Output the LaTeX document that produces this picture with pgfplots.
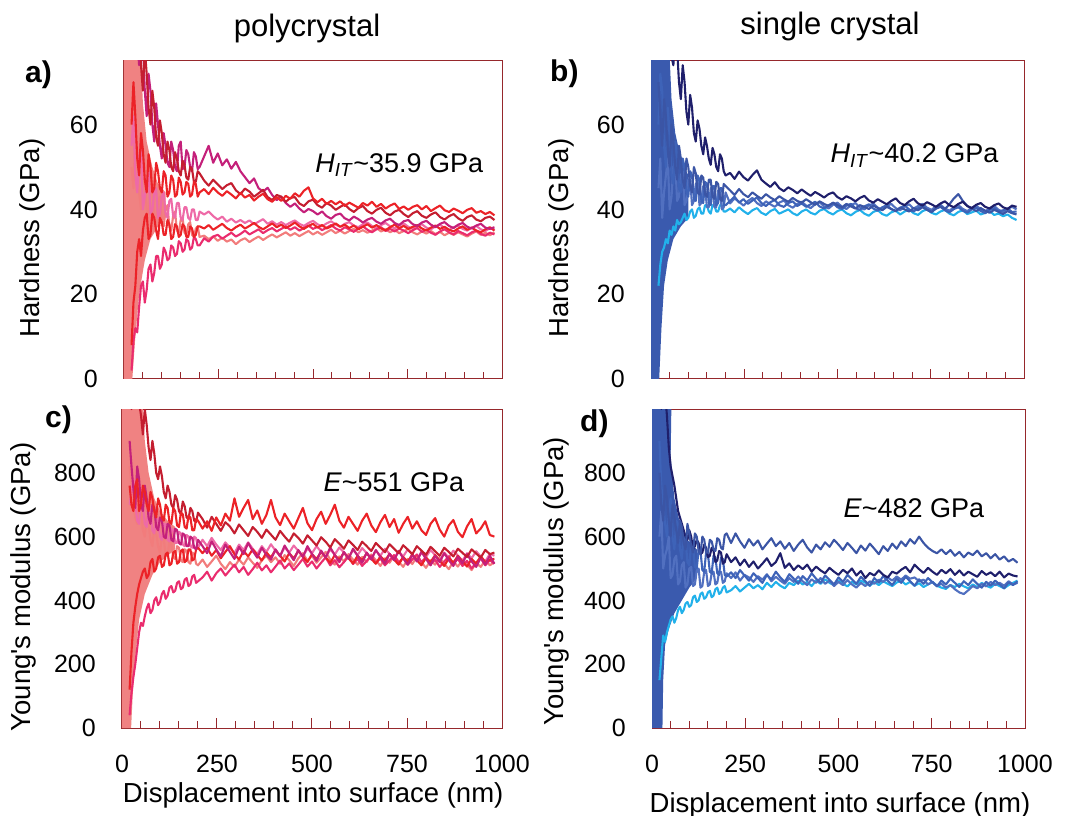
\documentclass[border=0pt]{standalone}
\usepackage{fontspec}
\setmainfont{Liberation Sans}
\usepackage{pgfplots}
\usepackage{pgfplotstable}
\pgfplotsset{compat=1.18}
\definecolor{frame}{HTML}{96282C}
\definecolor{pfill}{HTML}{F08282}
\definecolor{pdr}{HTML}{C41E30}
\definecolor{pred}{HTML}{EC2227}
\definecolor{pmag}{HTML}{C4207A}
\definecolor{phot}{HTML}{EA2C6E}
\definecolor{psal}{HTML}{F27C7C}
\definecolor{plp}{HTML}{EE6AA7}
\definecolor{sfill}{HTML}{3A5AAE}
\definecolor{snavy}{HTML}{1F1F6B}
\definecolor{sroyal}{HTML}{3B55A5}
\definecolor{smed}{HTML}{3E63B8}
\definecolor{ssky}{HTML}{22B1EA}
\definecolor{ssteel}{HTML}{5170C0}

\pgfplotstableread{
x A1 A2 A3 A4 A5 A6 A7
20 95 88 60 2 8 50 55
25 78 76 70 9 18 45 62
30 82 92 62 12 22 58 48
35 92 80 52 11 30 52 44
40 86 74 48 17 33 44 52
45 74 90 58 22 29 40 56
50 68 80 54 23 35 48 40
55 78 68 47 18 38 47 43
60 72 62 44 21 39 40 46
65 64 72 53 26 33 39 49
70 60 68 50 27 34 44 39
75 68 60 44 23 39 45 40
80 64 56 45 25 38 38 44
85 57 65 51 29 35 37 45
90 55 60 49 29 33 42 38
95 61 55 45 26 38 43 39
100 58 52 44 27 37 37 43
105 53 58 49 31 34 36 44
110 51 55 48 30 34 40 39
115 56 51 43 28 37.5 41 38
120 54 50 44 28.5 36.5 36 42
125 50 56 48 31.5 33 35 42.5
130 49 54 47 31 33.5 38.5 38.5
135 53.5 50 43 29 36.5 39.5 38
140 52 49 43.5 29.5 36 35 41.5
145 49 55 47.5 32.5 33.5 34.5 41.5
150 48 56 46.5 32 34 37.5 38
155 51.5 49.5 43.5 30 36.5 38 37.5
160 50.5 50 44 30.5 36 34.5 40.5
165 47.5 54 46.5 33 33.5 34 40.5
170 47 53 46 32.5 33.5 36.5 38
175 50 50 43 30.5 36 37 37.5
180 49.5 49 43.5 31 35.5 34 40
185 46.5 53.5 46.5 33.5 33.5 33.5 40
190 46.5 52.5 46 33 34 35.5 37.5
195 49 49.5 43 31.5 36 36 37.5
200 48.5 50 44 31.5 36 33.5 39.5
212 46.8 52.5 44.8 33.2 35.5 33.8 38.8
224 45.6 55.0 43.6 32.4 36.3 33.0 39.5
236 47.0 51.0 45.1 33.6 35.2 33.6 38.4
248 45.9 53.2 44.0 34.0 35.9 32.6 37.6
260 44.8 50.4 43.2 33.1 36.6 33.3 38.3
272 45.7 51.8 44.3 33.8 35.6 32.4 37.1
284 46.2 49.6 43.5 34.5 35.0 32.9 37.8
296 44.5 51.2 42.6 33.6 35.8 31.8 36.9
308 43.6 49.0 43.9 34.2 36.4 32.7 37.5
320 44.9 47.6 42.8 35.0 35.5 33.2 36.8
332 44.2 46.2 43.4 34.1 36.1 32.3 37.4
344 43.0 47.3 42.1 34.7 36.8 33.0 36.5
356 43.8 45.0 43.0 35.3 35.9 33.6 37.1
368 44.6 44.2 43.7 34.4 35.3 32.8 37.7
380 42.9 45.1 42.4 35.1 36.0 33.5 36.6
392 42.2 43.4 41.8 35.6 36.7 34.1 37.2
404 43.4 42.2 42.9 34.8 35.8 33.4 36.4
416 43.0 43.0 42.0 35.4 36.4 34.0 37.0
428 41.8 41.5 43.2 36.0 35.6 34.6 36.3
440 42.7 40.6 42.5 35.2 36.2 33.8 36.9
452 42.9 41.4 43.8 35.8 36.9 34.4 37.4
464 41.4 40.2 43.0 35.0 36.0 33.7 36.6
476 40.8 39.3 44.4 35.6 35.4 34.3 36.1
488 41.9 40.1 45.2 36.2 36.1 34.9 36.8
500 42.3 39.6 42.6 35.4 36.6 34.1 37.3
512 41.0 38.8 41.7 35.9 35.7 34.7 36.5
524 40.4 39.5 42.5 35.1 36.3 34.0 36.0
536 41.5 38.4 41.3 35.7 35.5 34.6 36.7
548 40.9 37.8 42.0 36.3 36.0 35.2 37.2
560 39.9 38.7 41.2 35.5 36.7 34.4 36.4
572 40.6 39.0 41.9 35.0 35.9 35.0 35.9
584 41.2 37.9 40.8 35.8 36.4 34.3 36.6
596 40.1 37.4 41.6 35.3 35.6 34.9 37.0
608 39.4 38.3 41.0 34.7 36.2 35.4 36.2
620 40.3 37.7 40.4 35.5 35.3 34.6 35.8
632 40.8 36.9 41.5 36.0 35.9 35.1 36.5
644 39.6 37.6 40.9 35.2 36.5 34.5 36.9
656 39.0 38.0 41.8 34.6 35.7 35.0 36.1
668 39.9 37.1 40.6 35.3 36.3 35.6 35.6
680 40.4 36.6 41.3 35.8 35.5 34.8 36.3
692 39.2 37.4 40.2 34.9 35.1 35.3 36.8
704 38.6 37.8 40.9 35.4 35.8 34.6 36.0
716 39.5 36.8 41.4 34.8 36.4 35.2 35.5
728 39.9 36.3 40.1 35.5 35.6 34.4 36.2
740 38.9 37.2 40.7 35.0 36.1 34.9 36.7
752 38.2 37.5 39.9 34.4 35.4 35.4 35.9
764 39.1 36.5 40.6 35.1 35.9 34.6 35.4
776 39.6 36.1 41.0 35.6 36.3 34.1 36.1
788 38.5 36.9 40.0 34.7 35.5 34.8 36.5
800 38.0 37.3 40.8 35.2 35.0 34.3 35.7
812 38.8 36.4 39.6 34.5 35.7 34.9 35.3
824 39.3 35.8 40.3 34.0 36.2 34.2 36.0
836 38.2 36.6 40.9 34.8 35.4 34.7 36.4
848 37.6 37.0 39.8 35.3 35.9 33.9 35.6
860 38.4 36.1 39.4 34.6 35.2 34.5 35.1
872 38.9 35.6 40.2 34.1 34.8 34.0 35.8
884 37.9 36.4 39.7 34.9 35.5 34.6 36.2
896 37.3 36.8 39.1 34.4 36.0 34.1 35.4
908 38.2 35.9 39.9 33.9 35.2 33.6 35.0
920 38.6 35.5 40.3 34.6 35.7 34.3 35.7
932 37.6 36.2 39.2 35.0 35.0 34.8 36.1
944 37.2 36.6 39.6 34.2 34.6 34.0 35.3
956 38.0 35.7 38.9 33.8 35.3 34.5 34.9
968 38.3 35.4 39.4 34.5 35.8 33.9 35.6
980 37.5 35.8 38.6 34.1 35.0 34.6 35.2
}\tabA

\pgfplotstableread{
x B1 B2 B3 B4 B5
20 90 70 60 22 45
25 80 62 72 27 52
30 95 55 68 30 38
35 88 66 55 31 44
40 85 62 50 33 48
45 92 54 64 32 52
50 82 50 58 35 40
55 76 60 48 34 43
60 74 56 46 36 50
65 82 50 56 35 51
70 78 47 53 37.5 42
75 70 55 45 36.5 43
80 66 52 44 37 48
85 74 47 52 38 49
90 70 45 50 39 41
95 63 52 44 37.5 42
100 60 50 43 38 47
105 67 45.5 49 39.5 47
110 64 44 48 40 41
115 58 50 42.5 38 42
120 56 48.5 42 38.5 46
125 61 44 48 40 46.5
130 59 43.5 47 40.5 41
135 55 48 42 39 41.5
140 53 47.5 41.5 39 45.5
145 57 43.5 46.5 41 45
150 55 43 46 41 40.5
155 52 47 41.5 39.5 40.5
160 50.5 47 41 39 45
165 54.5 43 45.5 41 44.5
170 53 42.5 45.5 41 40.5
175 50 46.5 41 39.5 40.5
180 49 46 41.5 39.5 44.5
185 53 42.5 45 41 44
190 52 42 45 41 40
195 49 46 41 39.5 40.5
200 48 45.5 41 39.5 44
212 48.6 44.5 42.0 40.2 41.4
224 47.2 43.4 43.0 39.3 42.6
236 48.9 44.8 41.6 40.5 41.8
248 47.6 43.6 42.4 39.6 40.9
260 46.8 42.9 41.3 38.9 42.0
272 48.1 44.0 42.1 39.8 42.7
284 49.2 43.2 42.8 40.3 41.5
296 47.0 42.5 41.5 39.2 40.8
308 46.1 43.6 40.8 38.7 41.9
320 45.3 42.8 41.7 39.6 41.2
332 46.4 42.2 42.2 40.1 40.6
344 45.0 43.1 41.0 39.0 41.6
356 44.3 42.4 40.6 39.5 42.1
368 45.2 41.8 41.5 40.0 41.0
380 44.6 42.7 41.9 39.1 40.4
392 43.8 42.0 40.8 38.6 41.3
404 44.7 41.6 41.4 39.5 41.8
416 43.9 42.4 40.6 40.0 40.9
428 43.2 41.7 41.2 39.2 40.3
440 44.1 41.1 41.8 38.8 41.2
452 43.5 41.9 40.7 39.7 41.7
464 42.8 41.3 40.2 40.1 40.7
476 43.6 40.8 41.0 39.3 40.2
488 44.0 41.6 41.5 38.8 41.1
500 42.9 41.0 40.5 39.6 41.6
512 42.3 40.5 40.1 40.0 40.6
524 43.1 41.3 40.9 39.1 40.1
536 42.6 40.7 41.3 38.6 41.0
548 41.9 40.2 40.3 39.4 41.5
560 42.7 41.0 39.9 39.9 40.5
572 43.2 40.6 40.7 39.0 40.0
584 42.1 40.1 41.2 38.5 40.9
596 41.6 40.9 40.2 39.4 41.4
608 42.4 40.3 39.7 39.8 40.4
620 41.8 39.8 40.5 38.9 39.9
632 41.2 40.6 41.0 38.5 40.8
644 42.0 40.1 40.1 39.3 41.3
656 42.6 39.6 39.6 39.7 40.3
668 41.5 40.4 40.4 38.8 39.8
680 41.0 40.0 40.9 39.5 40.7
692 41.9 39.5 40.0 40.0 41.2
704 42.5 40.3 39.5 39.1 40.2
716 41.4 39.8 40.3 38.7 40.8
728 40.9 40.5 40.8 39.6 41.3
740 41.7 39.9 39.9 40.0 40.4
752 41.2 39.4 39.4 39.2 39.9
764 40.6 40.2 40.2 38.8 40.7
776 41.4 40.7 40.6 39.5 41.1
788 41.9 40.1 39.8 39.9 40.2
800 41.0 41.2 39.3 39.0 39.7
812 40.5 42.6 40.1 38.6 40.5
824 41.3 43.6 40.5 39.4 41.0
836 41.8 42.0 39.7 39.8 40.1
848 40.8 40.8 39.2 38.9 39.6
860 40.3 40.2 40.0 39.3 40.4
872 41.1 39.6 40.4 39.7 40.9
884 41.5 40.3 39.6 38.8 40.0
896 40.6 39.7 39.1 39.2 39.5
908 40.2 39.2 39.9 39.6 40.3
920 41.0 39.9 40.3 38.7 40.8
932 41.4 39.4 39.5 39.0 39.9
944 40.5 38.9 39.8 38.4 39.4
956 40.1 39.6 40.2 38.8 40.2
968 40.9 39.1 39.4 38.0 40.6
980 40.6 38.8 39.5 37.5 40.0
}\tabB

\pgfplotstableread{
x C1 C2 C3 C4 C5 C6 C7
20 1100 760 900 40 820 700 120
25 1000 700 820 110 760 740 240
30 1150 680 750 160 700 780 330
35 1080 760 690 200 660 700 380
40 1050 780 820 250 640 650 420
45 1020 680 780 300 700 640 450
50 980 700 700 330 690 720 470
55 920 760 680 320 620 700 490
60 1000 740 760 350 600 640 500
65 950 700 720 375 660 630 470
70 880 680 660 390 640 690 480
75 840 740 640 360 590 680 520
80 900 720 700 370 570 620 530
85 860 680 690 400 630 610 490
90 800 660 630 410 610 660 500
95 780 720 620 385 570 650 535
100 820 700 660 395 550 600 540
105 790 660 650 420 600 590 505
110 740 650 600 430 590 640 510
115 720 700 595 405 545 640 545
120 760 690 640 415 540 590 550
125 740 645 635 440 585 585 510
130 700 640 590 445 575 625 515
135 690 690 585 425 535 620 550
140 730 680 625 430 530 580 555
145 715 635 620 455 570 580 515
150 680 630 580 460 565 615 520
155 670 675 575 435 525 610 555
160 710 670 610 440 520 575 560
165 695 630 605 465 560 570 520
170 660 625 570 470 555 605 525
175 655 665 570 445 520 600 560
180 690 660 600 450 515 570 560
185 680 620 595 475 550 565 525
190 650 620 565 480 545 600 530
195 645 655 560 455 515 595 560
200 675 650 590 460 510 565 565
212 655 625 570 472 528 590 548
224 628 648 548 490 505 570 565
236 662 618 585 462 522 596 540
248 640 660 560 485 540 575 558
260 618 635 538 500 515 558 532
272 645 672 575 478 498 582 552
284 632 650 552 495 520 565 570
296 610 720 530 512 505 548 545
308 638 662 568 488 528 575 528
320 620 690 545 505 512 558 555
332 602 715 580 480 535 582 538
344 630 655 555 498 518 562 560
356 615 682 534 518 502 545 542
368 596 640 565 494 526 570 525
380 622 668 542 510 540 552 550
392 606 715 528 488 520 576 535
404 590 660 560 506 535 556 558
416 618 636 538 525 515 540 540
428 600 672 572 500 542 566 522
440 584 648 548 516 526 550 548
452 610 625 526 495 508 572 532
464 596 658 558 512 532 555 555
476 578 690 536 530 548 538 538
488 604 642 570 506 524 562 520
500 588 620 545 522 540 548 545
512 572 655 524 500 518 570 530
524 598 678 556 518 535 552 552
536 584 640 534 535 552 536 535
548 566 668 566 510 528 560 518
560 592 700 542 526 512 544 542
572 578 650 520 504 538 566 528
584 562 628 552 520 522 550 550
596 588 662 530 538 545 534 532
608 574 640 562 514 528 558 516
620 558 618 540 530 512 542 540
632 584 650 518 508 536 564 526
644 570 672 550 524 520 548 548
656 555 635 528 540 544 532 530
668 580 614 558 516 526 556 515
680 566 645 536 532 508 540 538
692 551 668 515 510 532 562 524
704 576 630 546 526 518 546 546
716 562 655 526 542 540 530 528
728 548 612 555 518 522 554 512
740 573 640 532 534 505 538 536
752 559 662 512 512 530 560 522
764 545 625 544 528 514 544 544
776 570 648 522 544 536 528 526
788 556 620 552 520 520 552 510
800 543 605 530 535 502 536 534
812 568 640 510 512 526 558 520
824 554 658 540 528 512 542 542
836 540 622 520 505 534 526 524
848 565 600 548 522 515 550 508
860 552 635 526 538 498 534 532
872 538 652 508 515 522 556 518
884 562 615 538 530 506 540 540
896 549 598 516 508 528 524 522
908 536 632 545 524 512 548 506
920 560 655 522 500 495 532 530
932 547 610 505 518 518 554 516
944 534 625 534 532 505 538 538
956 558 648 512 510 526 522 520
968 545 605 540 526 510 546 528
980 550 600 515 515 520 540 530
}\tabC

\pgfplotstableread{
x D1 D2 D3 D4 D5
20 1200 800 900 150 600
25 1000 700 760 220 680
30 1100 650 700 290 500
35 1050 760 640 270 540
40 980 720 600 300 560
45 880 650 680 320 600
50 820 600 720 340 470
55 790 700 600 350 480
60 760 660 560 330 530
65 720 620 650 345 540
70 680 580 640 370 450
75 660 650 560 380 460
80 640 630 530 360 510
85 620 580 610 370 520
90 600 560 590 390 440
95 590 640 520 395 450
100 620 610 510 380 500
105 600 570 580 385 505
110 560 550 570 410 445
115 570 610 505 415 450
120 590 600 500 395 495
125 580 555 560 400 500
130 545 545 555 420 440
135 550 600 495 425 445
140 575 590 490 405 490
145 565 550 550 410 495
150 535 550 545 425 445
155 540 590 490 430 450
160 565 585 485 410 485
165 555 560 540 415 490
170 520 555 535 435 450
175 525 595 485 440 455
180 555 590 480 420 490
185 550 565 535 425 490
190 515 560 530 440 455
195 520 605 480 445 460
200 545 610 475 425 485
212 520 580 488 432 470
224 535 610 470 445 488
236 510 585 495 428 462
248 528 565 478 440 480
260 505 592 462 452 472
272 522 572 485 438 458
284 500 588 470 448 476
296 515 560 455 435 465
308 532 578 480 455 482
320 508 595 466 442 460
332 520 570 490 458 474
344 548 585 472 446 462
356 502 562 458 438 452
368 516 580 482 455 470
380 495 555 468 448 458
392 510 575 452 462 475
404 498 590 476 450 460
416 512 566 462 458 448
428 490 550 485 445 466
440 506 575 468 462 455
452 494 560 455 452 470
464 485 582 478 466 452
476 502 568 464 455 462
488 490 590 450 448 445
500 480 575 472 462 458
512 496 558 458 452 448
524 485 580 480 444 464
536 500 565 466 458 450
548 478 548 452 450 440
560 492 572 474 462 455
572 470 556 460 455 445
584 486 578 446 446 460
596 478 562 470 458 452
608 494 545 456 448 465
620 480 570 476 460 458
632 472 555 462 452 472
644 490 578 448 445 462
656 484 562 468 456 475
668 496 585 455 462 465
680 505 570 474 450 478
692 488 592 460 458 468
704 512 578 446 446 472
716 498 600 466 454 460
728 486 580 452 442 465
740 502 565 470 450 450
752 490 555 457 458 458
764 480 548 444 446 445
776 496 560 462 440 452
788 485 545 450 436 440
800 498 558 468 448 448
812 480 540 455 442 435
824 494 552 442 452 425
836 478 535 460 444 420
848 490 550 448 438 432
860 482 542 466 450 445
872 474 556 452 442 438
884 492 538 440 455 452
896 480 548 458 446 444
908 488 532 446 440 458
920 476 545 462 452 448
932 490 528 450 445 455
944 472 538 438 438 446
956 484 522 456 448 460
968 478 530 448 455 450
980 475 518 460 462 455
}\tabD

\pgfplotsset{
  panel/.style={
    scale only axis,
    xmin=0, xmax=1000,
    axis line style={draw=frame, line width=1pt},
    xtick={0,250,500,750,1000},
    minor xtick={50,100,...,950},
    xtick pos=bottom, ytick pos=left,
    tick align=inside,
    major tick length=10pt, minor tick length=7pt,
    every tick/.style={draw=frame, line width=1pt},
    ytick style={draw=none},
    /pgf/number format/assume math mode=true,
    /pgf/number format/1000 sep={},
    tick label style={font=\fontsize{25}{30}\selectfont},
    yticklabel style={anchor=east, inner sep=0pt, xshift=-26pt},
    xticklabel style={anchor=base, inner sep=0pt, yshift=-44pt},
    label style={font=\fontsize{27.5}{33}\selectfont},
    every axis plot/.append style={line width=2.1pt, line join=round, mark=none},
    clip=true,
  },
}

\begin{document}
\begin{tikzpicture}

% ---------- a) polycrystal hardness
\begin{axis}[panel, name=pa,
  width=378pt, height=318pt, ymin=0, ymax=75, ytick={0,20,40,60},
  xticklabels={},
  ylabel={Hardness (GPa)},
  ylabel style={at={(axis description cs:-0.243,0.443)}, anchor=center}]
\addplot[fill=pfill, draw=none] coordinates {(0,0) (0,76) (45,76) (50,65) (60,56) (75,50) (90,46) (110,44) (110,38) (90,36) (70,33) (55,28) (40,20) (30,10) (22,0)};
\addplot[psal] table[x=x,y=A6] {\tabA};
\addplot[plp] table[x=x,y=A7] {\tabA};
\addplot[phot] table[x=x,y=A4] {\tabA};
\addplot[pred] table[x=x,y=A5] {\tabA};
\addplot[pmag] table[x=x,y=A2] {\tabA};
\addplot[pdr] table[x=x,y=A1] {\tabA};
\addplot[pred] table[x=x,y=A3] {\tabA};
\node[anchor=base west, font=\fontsize{27}{32}\selectfont] at (axis cs:497,48.7) {\textit{H}\textsubscript{\textit{IT}}\textasciitilde 35.9 GPa};
\end{axis}

% ---------- b) single crystal hardness
\begin{axis}[panel, name=pb, at={(pa.south west)}, anchor=south west, xshift=527pt,
  width=373pt, height=318pt, ymin=0, ymax=75, ytick={0,20,40,60},
  xticklabels={},
  ylabel={Hardness (GPa)},
  ylabel style={at={(axis description cs:-0.241,0.443)}, anchor=center}]
\addplot[fill=sfill, draw=none] coordinates {(0,0) (0,76) (50,76) (55,66) (65,58) (80,52) (100,48) (100,38) (80,36) (60,33) (45,28) (35,22) (28,12) (22,0)};
\addplot[ssky] table[x=x,y=B4] {\tabB};
\addplot[ssteel] table[x=x,y=B5] {\tabB};
\addplot[smed] table[x=x,y=B3] {\tabB};
\addplot[sroyal] table[x=x,y=B2] {\tabB};
\addplot[snavy] table[x=x,y=B1] {\tabB};
\node[anchor=base west, font=\fontsize{27}{32}\selectfont] at (axis cs:472,51) {\textit{H}\textsubscript{\textit{IT}}\textasciitilde 40.2 GPa};
\end{axis}

% ---------- c) polycrystal modulus
\begin{axis}[panel, name=pc, at={(pa.south west)}, anchor=south west, xshift=-2pt, yshift=-349pt,
  width=380pt, height=319pt, ymin=0, ymax=1000, ytick={0,200,400,600,800},
  xlabel={Displacement into surface (nm)},
  xlabel style={at={(axis description cs:0.503,0)}, anchor=base, yshift=-74pt},
  ylabel={Young\textquotesingle s modulus (GPa)},
  ylabel style={at={(axis description cs:-0.26,0.442)}, anchor=center}]
\addplot[fill=pfill, draw=none] coordinates {(0,0) (0,1010) (55,1010) (60,900) (70,800) (85,720) (100,680) (120,650) (140,630) (140,560) (120,540) (100,520) (80,480) (60,420) (45,340) (35,220) (28,100) (24,0)};
\addplot[psal] table[x=x,y=C5] {\tabC};
\addplot[plp] table[x=x,y=C6] {\tabC};
\addplot[phot] table[x=x,y=C4] {\tabC};
\addplot[pred] table[x=x,y=C7] {\tabC};
\addplot[pmag] table[x=x,y=C3] {\tabC};
\addplot[pdr] table[x=x,y=C1] {\tabC};
\addplot[pred] table[x=x,y=C2] {\tabC};
\node[anchor=base west, font=\fontsize{27}{32}\selectfont] at (axis cs:521,740) {\textit{E}\textasciitilde 551 GPa};
\end{axis}

% ---------- d) single crystal modulus
\begin{axis}[panel, name=pd, at={(pa.south west)}, anchor=south west, xshift=528pt, yshift=-349pt,
  width=373pt, height=319pt, ymin=0, ymax=1000, ytick={0,200,400,600,800},
  xlabel={Displacement into surface (nm)},
  xlabel style={at={(axis description cs:0.504,0)}, anchor=base, yshift=-84pt},
  ylabel={Young\textquotesingle s modulus (GPa)},
  ylabel style={at={(axis description cs:-0.255,0.46)}, anchor=center}]
\addplot[fill=sfill, draw=none] coordinates {(0,0) (0,1010) (52,1010) (50,850) (60,720) (75,640) (95,590) (120,560) (120,470) (100,440) (80,400) (60,360) (45,310) (35,260) (30,150) (28,0)};
\addplot[ssky] table[x=x,y=D4] {\tabD};
\addplot[ssteel] table[x=x,y=D5] {\tabD};
\addplot[smed] table[x=x,y=D3] {\tabD};
\addplot[snavy] table[x=x,y=D1] {\tabD};
\addplot[sroyal] table[x=x,y=D2] {\tabD};
\node[anchor=base west, font=\fontsize{27}{32}\selectfont] at (axis cs:504,661) {\textit{E}\textasciitilde 482 GPa};
\end{axis}

% titles and panel letters
\node[anchor=base, font=\fontsize{31}{36}\selectfont] at ([xshift=183pt,yshift=24pt]pa.north west) {polycrystal};
\node[anchor=base, font=\fontsize{31}{36}\selectfont] at ([xshift=179pt,yshift=26pt]pb.north west) {single crystal};
\node[anchor=base west, inner sep=0pt, font=\fontsize{30}{36}\selectfont\bfseries] at ([xshift=-99pt,yshift=-22pt]pa.north west) {a)};
\node[anchor=base west, inner sep=0pt, font=\fontsize{30}{36}\selectfont\bfseries] at ([xshift=-101pt,yshift=-21pt]pb.north west) {b)};
\node[anchor=base west, inner sep=0pt, font=\fontsize{30}{36}\selectfont\bfseries] at ([xshift=-77pt,yshift=-19pt]pc.north west) {c)};
\node[anchor=base west, inner sep=0pt, font=\fontsize{30}{36}\selectfont\bfseries] at ([xshift=-72pt,yshift=-23pt]pd.north west) {d)};

\pgfresetboundingbox
\path[use as bounding box] ([xshift=-124pt,yshift=-437pt]pa.south west) rectangle ([xshift=953pt,yshift=379pt]pa.south west);
\end{tikzpicture}
\end{document}
